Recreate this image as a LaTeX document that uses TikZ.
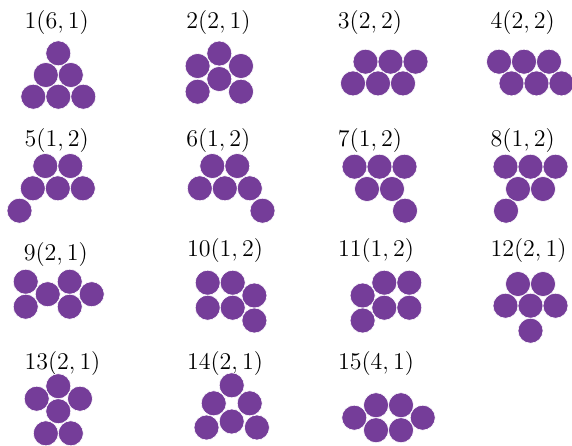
\documentclass[tikz,border=0pt]{standalone}
\usepackage{amsmath}
\usepackage{tikz}

\definecolor{grape}{RGB}{117,61,153}

\tikzset{
  disc/.style={circle, fill=grape, draw=white, line width=0.3pt,
    minimum size=12.5pt, inner sep=0pt},
  tag/.style={anchor=base, inner sep=0pt, font=\fontsize{11.8}{14}\selectfont}
}

\begin{document}
\begin{tikzpicture}[x=0.5pt, y=-0.5pt]
  \useasboundingbox (0,0) rectangle (572,445);

  \node[tag] (t1) at (56.7, 28.5) {$1(6,1)$};
  \node[disc] (s1a) at (58.3, 53.3) {};
  \node[disc] (s1b) at (45.8, 75) {};
  \node[disc] (s1c) at (70.8, 75) {};
  \node[disc] (s1d) at (33.3, 96.7) {};
  \node[disc] (s1e) at (58.3, 96.7) {};
  \node[disc] (s1f) at (83.3, 96.7) {};

  \node[tag] (t2) at (218.5, 28.5) {$2(2,1)$};
  \node[disc] (s2a) at (219.3, 53.5) {};
  \node[disc] (s2b) at (197.6, 66) {};
  \node[disc] (s2c) at (241, 66) {};
  \node[disc] (s2d) at (219.3, 79) {};
  \node[disc] (s2e) at (197.6, 91.7) {};
  \node[disc] (s2f) at (241, 91.7) {};

  \node[tag] (t3) at (370, 28.5) {$3(2,2)$};
  \node[disc] (s3a) at (365.5, 61.7) {};
  \node[disc] (s3b) at (390.5, 61.7) {};
  \node[disc] (s3c) at (415.5, 61.7) {};
  \node[disc] (s3d) at (353, 83.4) {};
  \node[disc] (s3e) at (378, 83.4) {};
  \node[disc] (s3f) at (403, 83.4) {};

  \node[tag] (t4) at (522.7, 28.5) {$4(2,2)$};
  \node[disc] (s4a) at (499, 61.7) {};
  \node[disc] (s4b) at (524, 61.7) {};
  \node[disc] (s4c) at (549, 61.7) {};
  \node[disc] (s4d) at (511.5, 83.4) {};
  \node[disc] (s4e) at (536.5, 83.4) {};
  \node[disc] (s4f) at (561.5, 83.4) {};

  \node[tag] (t5) at (56.7, 146.5) {$5(1,2)$};
  \node[disc] (s5a) at (45.3, 166) {};
  \node[disc] (s5b) at (70.3, 166) {};
  \node[disc] (s5c) at (32.8, 188.3) {};
  \node[disc] (s5d) at (57.8, 188.3) {};
  \node[disc] (s5e) at (82.8, 188.3) {};
  \node[disc] (s5f) at (19.5, 210.7) {};

  \node[tag] (t6) at (218.3, 146.5) {$6(1,2)$};
  \node[disc] (s6a) at (212.3, 166) {};
  \node[disc] (s6b) at (237.3, 166) {};
  \node[disc] (s6c) at (199.8, 188.3) {};
  \node[disc] (s6d) at (224.8, 188.3) {};
  \node[disc] (s6e) at (249.8, 188.3) {};
  \node[disc] (s6f) at (262.5, 210.7) {};

  \node[tag] (t7) at (370, 146.5) {$7(1,2)$};
  \node[disc] (s7a) at (354.5, 166.7) {};
  \node[disc] (s7b) at (379.5, 166.7) {};
  \node[disc] (s7c) at (404.5, 166.7) {};
  \node[disc] (s7d) at (367, 189) {};
  \node[disc] (s7e) at (392, 189) {};
  \node[disc] (s7f) at (405, 210.7) {};

  \node[tag] (t8) at (522.7, 146.5) {$8(1,2)$};
  \node[disc] (s8a) at (505.5, 166.7) {};
  \node[disc] (s8b) at (530.5, 166.7) {};
  \node[disc] (s8c) at (555.5, 166.7) {};
  \node[disc] (s8d) at (518, 189) {};
  \node[disc] (s8e) at (543, 189) {};
  \node[disc] (s8f) at (506, 210.7) {};

  \node[tag] (t9) at (55.8, 260) {$9(2,1)$};
  \node[disc] (s9a) at (25.7, 281.7) {};
  \node[disc] (s9b) at (25.7, 306.7) {};
  \node[disc] (s9c) at (47.7, 294.2) {};
  \node[disc] (s9d) at (69.7, 281.7) {};
  \node[disc] (s9e) at (69.7, 306.7) {};
  \node[disc] (s9f) at (91.7, 294.2) {};

  \node[tag] (t10) at (225, 256) {$10(1,2)$};
  \node[disc] (s10a) at (207.7, 282.7) {};
  \node[disc] (s10b) at (232.7, 282.7) {};
  \node[disc] (s10c) at (207.7, 307.7) {};
  \node[disc] (s10d) at (232.7, 307.7) {};
  \node[disc] (s10e) at (254.4, 295.5) {};
  \node[disc] (s10f) at (254.4, 320.5) {};

  \node[tag] (t11) at (376, 256) {$11(1,2)$};
  \node[disc] (s11a) at (362.6, 295.5) {};
  \node[disc] (s11b) at (362.6, 320.5) {};
  \node[disc] (s11c) at (384.3, 282.7) {};
  \node[disc] (s11d) at (409.3, 282.7) {};
  \node[disc] (s11e) at (384.3, 307.7) {};
  \node[disc] (s11f) at (409.3, 307.7) {};

  \node[tag] (t12) at (528.5, 256) {$12(2,1)$};
  \node[disc] (s12a) at (518, 284) {};
  \node[disc] (s12b) at (543, 284) {};
  \node[disc] (s12c) at (505.5, 305.7) {};
  \node[disc] (s12d) at (530.5, 305.7) {};
  \node[disc] (s12e) at (555.5, 305.7) {};
  \node[disc] (s12f) at (530.5, 330.7) {};

  \node[tag] (t13) at (62.5, 369) {$13(2,1)$};
  \node[disc] (s13a) at (58.3, 386.2) {};
  \node[disc] (s13b) at (36.7, 398.7) {};
  \node[disc] (s13c) at (80, 398.7) {};
  \node[disc] (s13d) at (58.3, 411.2) {};
  \node[disc] (s13e) at (45.8, 433.3) {};
  \node[disc] (s13f) at (70.8, 433.3) {};

  \node[tag] (t14) at (225, 369) {$14(2,1)$};
  \node[disc] (s14a) at (231.7, 385.3) {};
  \node[disc] (s14b) at (213.7, 403.3) {};
  \node[disc] (s14c) at (249.7, 403.3) {};
  \node[disc] (s14d) at (231.7, 421.5) {};
  \node[disc] (s14e) at (206.5, 427.5) {};
  \node[disc] (s14f) at (256.9, 427.5) {};

  \node[tag] (t15) at (376, 369) {$15(4,1)$};
  \node[disc] (s15a) at (354.3, 417.7) {};
  \node[disc] (s15b) at (376, 405.2) {};
  \node[disc] (s15c) at (401, 405.2) {};
  \node[disc] (s15d) at (422.7, 417.7) {};
  \node[disc] (s15e) at (376, 430.2) {};
  \node[disc] (s15f) at (401, 430.2) {};
\end{tikzpicture}
\end{document}
